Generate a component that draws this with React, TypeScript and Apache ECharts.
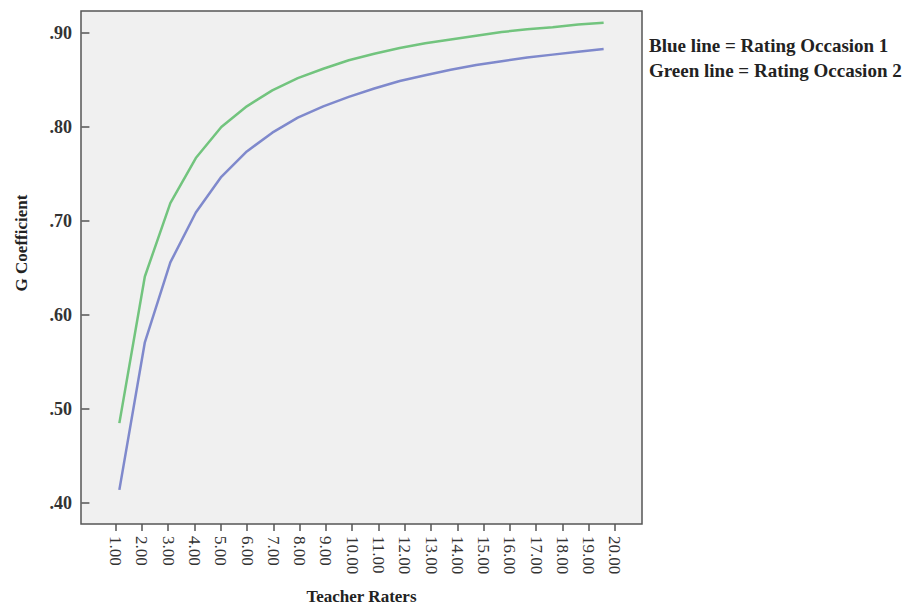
import React, { useEffect, useRef } from "react";
import * as echarts from "echarts";

// Tick positions (number of teacher raters)
const raterTicks = [1, 2, 3, 4, 5, 6, 7, 8, 9, 10, 11, 12, 13, 14, 15, 16, 17, 18, 19, 20];
// X position of each plotted point (slightly offset from ticks)
const pointX = [1.14, 2.11, 3.08, 4.05, 5.02, 5.99, 6.96, 7.93, 8.9, 9.87, 10.84, 11.81, 12.78, 13.75, 14.72, 15.69, 16.66, 17.63, 18.6, 19.57];
const occasion1 = [0.414, 0.571, 0.656, 0.709, 0.747, 0.774, 0.794, 0.81, 0.822, 0.832, 0.841, 0.849, 0.855, 0.861, 0.866, 0.87, 0.874, 0.877, 0.88, 0.883];
const occasion2 = [0.485, 0.641, 0.719, 0.767, 0.8, 0.822, 0.839, 0.852, 0.862, 0.871, 0.878, 0.884, 0.889, 0.893, 0.897, 0.901, 0.904, 0.906, 0.909, 0.911];
const yTicks = [0.4, 0.5, 0.6, 0.7, 0.8, 0.9];
const legendLines = ["Blue line = Rating Occasion 1", "Green line = Rating Occasion 2"];

const serif = "'Liberation Serif', 'DejaVu Serif', serif";

export default function App() {
  const ref = useRef<HTMLDivElement>(null);
  useEffect(() => {
    if (!ref.current) return;
    const chart = echarts.init(ref.current, undefined, { renderer: "svg" });
    chart.setOption({
      animation: false,
      backgroundColor: "#ffffff",
      grid: {
        left: 81,
        top: 11,
        right: 264,
        bottom: 81,
        show: true,
        backgroundColor: "#f0f0f0",
        borderColor: "#555555",
        borderWidth: 1.5,
        outerBoundsMode: "none",
        containLabel: false,
      },
      xAxis: {
        type: "value",
        min: -0.32,
        max: 21.03,
        name: "Teacher Raters",
        nameLocation: "middle",
        nameGap: 64,
        nameTextStyle: { fontFamily: serif, fontWeight: "bold", fontSize: 17, color: "#222" },
        axisLine: { show: false },
        splitLine: { show: false },
        axisTick: { show: true, length: 7, customValues: raterTicks, lineStyle: { color: "#555", width: 1.5 } },
        axisLabel: {
          customValues: raterTicks,
          rotate: -90,
          margin: 12,
          fontFamily: serif,
          fontSize: 17,
          color: "#333",
          formatter: (v: number) => v.toFixed(2),
        },
      },
      yAxis: {
        type: "value",
        min: 0.3777,
        max: 0.9234,
        axisLine: { show: false },
        splitLine: { show: false },
        axisTick: { show: true, length: 8, customValues: yTicks, lineStyle: { color: "#555", width: 1.5 } },
        axisLabel: {
          customValues: yTicks,
          margin: 9,
          fontFamily: serif,
          fontWeight: "bold",
          fontSize: 18,
          color: "#333",
          formatter: (v: number) => "." + Math.round(v * 100).toString(),
        },
      },
      series: [
        {
          type: "line",
          name: "Rating Occasion 1",
          data: pointX.map((x, i) => [x, occasion1[i]]),
          showSymbol: false,
          lineStyle: { color: "#7f89cc", width: 2.5 },
        },
        {
          type: "line",
          name: "Rating Occasion 2",
          data: pointX.map((x, i) => [x, occasion2[i]]),
          showSymbol: false,
          lineStyle: { color: "#72c47e", width: 2.5 },
        },
      ],
      graphic: [
        ...legendLines.map((t, i) => ({
          type: "text",
          x: 649,
          y: 45 + i * 25,
          style: {
            text: t,
            fontFamily: serif,
            fontWeight: "bold",
            fontSize: 19,
            fill: "#222",
            verticalAlign: "middle",
            align: "left",
          },
        })),
        {
          type: "text",
          x: 21,
          y: 243,
          rotation: Math.PI / 2,
          style: {
            text: "G Coefficient",
            fontFamily: serif,
            fontWeight: "bold",
            fontSize: 17,
            fill: "#222",
            align: "center",
            verticalAlign: "middle",
          },
        },
      ],
    });
    return () => chart.dispose();
  }, []);
  return <div ref={ref} style={{ position: "absolute", left: 0, top: 0, width: 906, height: 605 }} />;
}
